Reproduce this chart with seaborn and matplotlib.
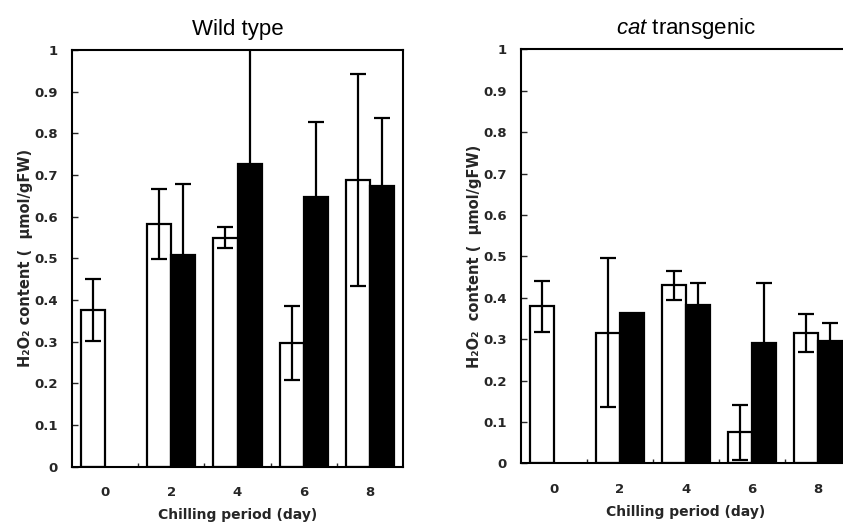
import numpy as np
import pandas as pd
import matplotlib
matplotlib.use("Agg")
import matplotlib.pyplot as plt
import seaborn as sns

days = ["0", "2", "4", "6", "8"]
groups = ["A", "B"]

wt_white = [0.376, 0.583, 0.550, 0.296, 0.688]
wt_white_err = [0.075, 0.084, 0.025, 0.089, 0.255]
wt_black = [np.nan, 0.508, 0.726, 0.648, 0.674]
wt_black_err = [np.nan, 0.170, 0.290, 0.180, 0.164]

cat_white = [0.379, 0.315, 0.430, 0.075, 0.315]
cat_white_err = [0.061, 0.180, 0.035, 0.067, 0.045]
cat_black = [np.nan, 0.362, 0.382, 0.291, 0.295]
cat_black_err = [np.nan, 0.0, 0.054, 0.145, 0.045]

yticks = [0, 0.1, 0.2, 0.3, 0.4, 0.5, 0.6, 0.7, 0.8, 0.9, 1]
yticklabels = ["0", "0.1", "0.2", "0.3", "0.4", "0.5", "0.6", "0.7", "0.8", "0.9", "1"]

sns.set_theme(style="white")
plt.rcParams["font.family"] = ["DejaVu Sans"]
plt.rcParams["mathtext.fontset"] = "custom"
plt.rcParams["mathtext.it"] = "Liberation Sans:italic"
plt.rcParams["mathtext.rm"] = "Liberation Sans"

fig = plt.figure(figsize=(8.43, 5.23), dpi=100)
W, H = 843, 523
ax1 = fig.add_axes([72 / W, (H - 466.7) / H, 331 / W, 416.7 / H])
ax2 = fig.add_axes([521 / W, (H - 463.3) / H, 330 / W, 414 / H])

BW = 0.73

def draw(ax, white, werr, black, berr, title, ylabel):
    df = pd.DataFrame({
        "day": days * 2,
        "grp": [groups[0]] * 5 + [groups[1]] * 5,
        "val": list(white) + list(black),
    })
    sns.barplot(data=df, x="day", y="val", hue="grp", order=days, hue_order=groups,
                palette={"A": "white", "B": "black"}, edgecolor="black", linewidth=1.6,
                width=BW, gap=0, errorbar=None, legend=False, ax=ax, saturation=1)
    for j, (vals, errs) in enumerate([(white, werr), (black, berr)]):
        off = (j - 0.5) * BW / 2
        xs = np.arange(len(days)) + off
        v = np.array(vals, float)
        e = np.array(errs, float)
        m = ~np.isnan(v) & (np.nan_to_num(e) > 0)
        ax.errorbar(xs[m], v[m], yerr=e[m], fmt="none", ecolor="black",
                    elinewidth=1.6, capsize=5.5, capthick=1.6, zorder=5)
    ax.set_ylim(0, 1)
    ax.set_xlim(-0.5, 4.5)
    ax.set_yticks(yticks)
    ax.set_yticklabels(yticklabels, fontsize=9.5, fontweight="heavy")
    ax.set_xticks(range(len(days)))
    ax.set_xticklabels(days, fontsize=9.5, fontweight="heavy")
    ax.set_xticks([0.5, 1.5, 2.5, 3.5], minor=True)
    ax.tick_params(axis="x", which="major", length=0, pad=14)
    ax.tick_params(axis="x", which="minor", direction="in", length=3, width=1, bottom=True)
    ax.tick_params(axis="y", direction="in", length=4, width=1, left=True, pad=10)
    for s in ax.spines.values():
        s.set_visible(True)
        s.set_color("black")
        s.set_linewidth(1.5)
    ax.set_xlabel("Chilling period (day)", fontsize=10, fontweight="heavy")
    ax.set_ylabel(ylabel, fontsize=10.5, fontweight="heavy")
    ax.set_title(title, fontsize=16, family="Liberation Sans", pad=11, color="black")

draw(ax1, wt_white, wt_white_err, wt_black, wt_black_err, "Wild type",
     "H₂O₂ content (  μmol/gFW)")
draw(ax2, cat_white, cat_white_err, cat_black, cat_black_err, r"$\it{cat}$ transgenic",
     "H₂O₂  content (  μmol/gFW)")

ax1.yaxis.set_label_coords(-0.118, 0.5)
ax2.yaxis.set_label_coords(-0.118, 0.5)
ax1.xaxis.set_label_coords(0.5, -0.1)
ax2.xaxis.set_label_coords(0.5, -0.1)

fig.savefig("out.png", dpi=100, facecolor="white")
